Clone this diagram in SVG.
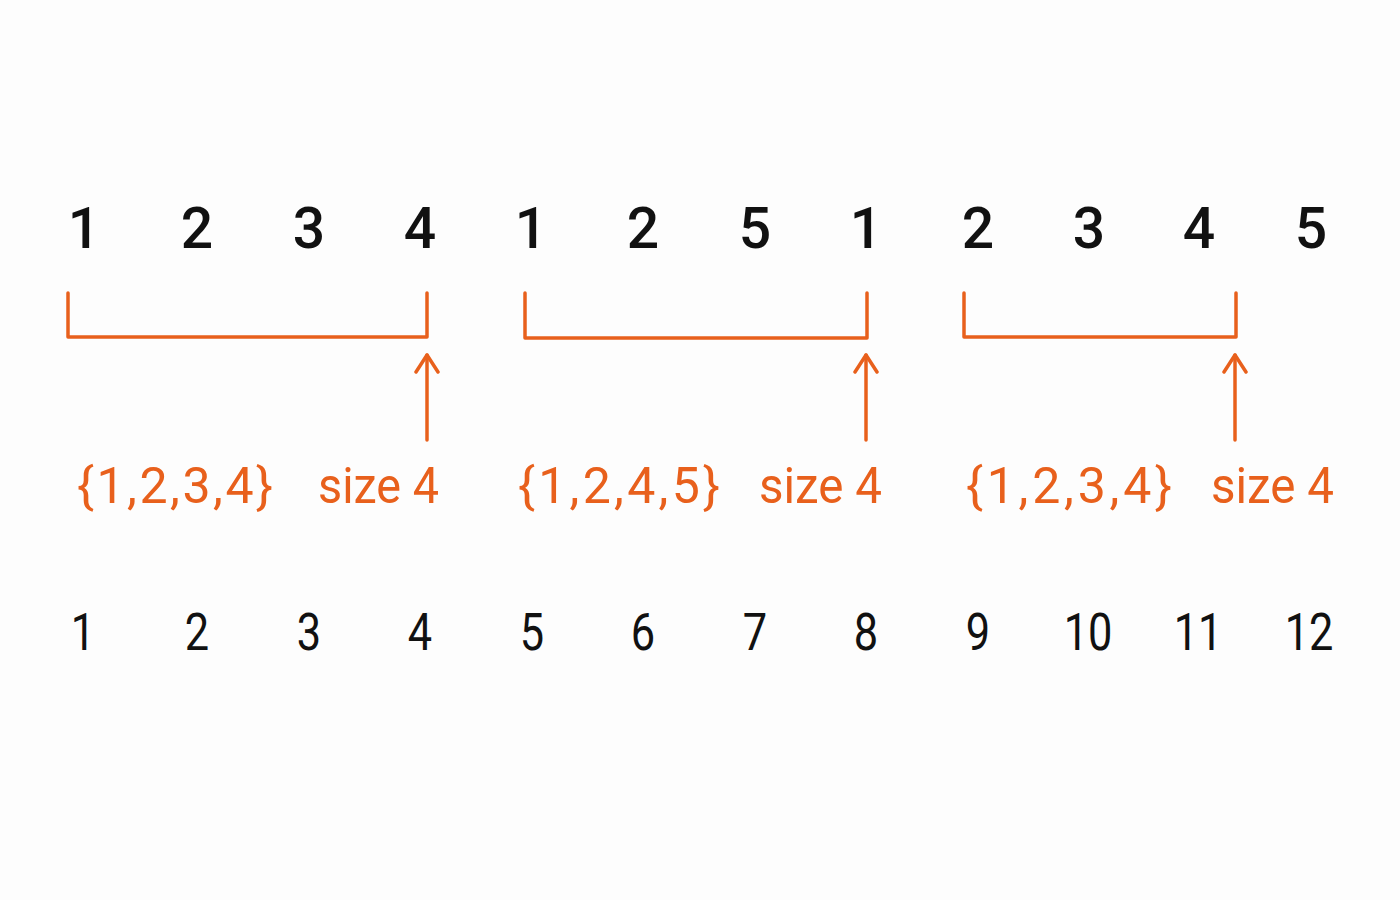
<svg xmlns="http://www.w3.org/2000/svg" width="1400" height="900" viewBox="0 0 1400 900">
<defs>
<style>
.top{font-family:Roboto,"Liberation Sans",sans-serif;font-size:57px;font-weight:500;fill:#111;text-anchor:middle}
.bot{font-family:Roboto,"Liberation Sans",sans-serif;font-size:51px;font-weight:400;fill:#111;text-anchor:middle}
.lab{font-family:Roboto,"Liberation Sans",sans-serif;font-size:50px;font-weight:400;fill:#E8601C}
.br{fill:none;stroke:#E8601C;stroke-width:3.5;stroke-linecap:round;stroke-linejoin:round}
</style>
<marker id="ah" viewBox="0 0 22 26" refX="19" refY="13" markerWidth="22" markerHeight="26" markerUnits="userSpaceOnUse" orient="auto">
<path d="M2,2 L19,13 L2,24" fill="none" stroke="#E8601C" stroke-width="3.5" stroke-linecap="round" stroke-linejoin="round"/>
</marker>
</defs>
<rect width="1400" height="900" fill="#fdfdfd"/>
<g id="top-row">
<text class="top" x="84" y="248">1</text>
<text class="top" x="197" y="248">2</text>
<text class="top" x="309" y="248">3</text>
<text class="top" x="420" y="248">4</text>
<text class="top" x="531" y="248">1</text>
<text class="top" x="643" y="248">2</text>
<text class="top" x="755" y="248">5</text>
<text class="top" x="866" y="248">1</text>
<text class="top" x="978" y="248">2</text>
<text class="top" x="1089" y="248">3</text>
<text class="top" x="1199" y="248">4</text>
<text class="top" x="1311" y="248">5</text>
</g>
<g id="window1">
<text class="lab" x="77" y="503" textLength="196" lengthAdjust="spacing">{1,2,3,4}</text>
<text class="lab" x="318" y="503" textLength="121" lengthAdjust="spacingAndGlyphs">size 4</text>
</g>
<g id="window2">
<text class="lab" x="518" y="503" textLength="202" lengthAdjust="spacing">{1,2,4,5}</text>
<text class="lab" x="759" y="503" textLength="123" lengthAdjust="spacingAndGlyphs">size 4</text>
</g>
<g id="window3">
<text class="lab" x="966" y="503" textLength="206" lengthAdjust="spacing">{1,2,3,4}</text>
<text class="lab" x="1211" y="503" textLength="123" lengthAdjust="spacingAndGlyphs">size 4</text>
</g>
<g id="connectors">
<path class="br" d="M68,293 V337 H427 V293"/>
<path class="br" d="M525,293 V338 H867 V293"/>
<path class="br" d="M964,293 V337 H1236 V293"/>
<line class="br" x1="427" y1="440" x2="427" y2="355" marker-end="url(#ah)"/>
<line class="br" x1="866" y1="440" x2="866" y2="355" marker-end="url(#ah)"/>
<line class="br" x1="1235" y1="440" x2="1235" y2="355" marker-end="url(#ah)"/>
</g>
<g id="bottom-row">
<text class="bot" transform="translate(83,650) scale(0.85,1)">1</text>
<text class="bot" transform="translate(197,650) scale(0.85,1)">2</text>
<text class="bot" transform="translate(309,650) scale(0.85,1)">3</text>
<text class="bot" transform="translate(420,650) scale(0.85,1)">4</text>
<text class="bot" transform="translate(532,650) scale(0.85,1)">5</text>
<text class="bot" transform="translate(643,650) scale(0.85,1)">6</text>
<text class="bot" transform="translate(755,650) scale(0.85,1)">7</text>
<text class="bot" transform="translate(866,650) scale(0.85,1)">8</text>
<text class="bot" transform="translate(978,650) scale(0.85,1)">9</text>
<text class="bot" transform="translate(1088,650) scale(0.85,1)">10</text>
<text class="bot" transform="translate(1198,650) scale(0.85,1)">11</text>
<text class="bot" transform="translate(1309,650) scale(0.85,1)">12</text>
</g>
</svg>
